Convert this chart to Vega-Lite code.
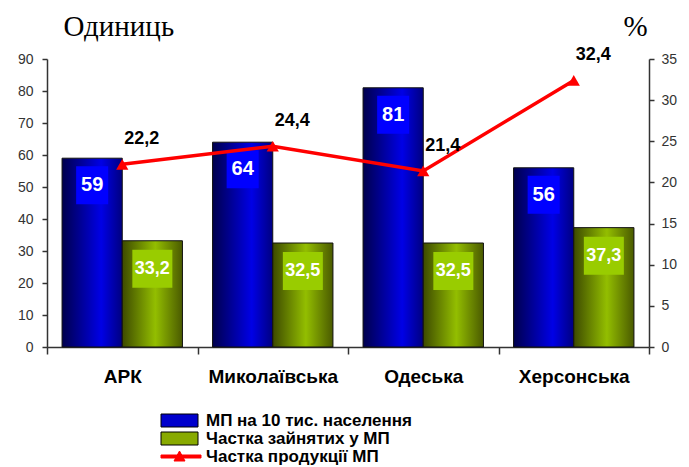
{
  "$schema": "https://vega.github.io/schema/vega-lite/v6.json",
  "width": 602,
  "height": 288,
  "autosize": "none",
  "padding": {"left": 47, "top": 59, "right": 40, "bottom": 120},
  "background": "white",
  "config": {
    "view": {"stroke": null},
    "font": "Liberation Sans",
    "locale": {"number": {"decimal": ",", "thousands": " ", "grouping": [3], "currency": ["", ""]}}
  },
  "data": {
    "values": [
      {"region": "АРК", "series": "МП на 10 тис. населення", "value": 59},
      {"region": "Миколаївська", "series": "МП на 10 тис. населення", "value": 64},
      {"region": "Одеська", "series": "МП на 10 тис. населення", "value": 81},
      {"region": "Херсонська", "series": "МП на 10 тис. населення", "value": 56},
      {"region": "АРК", "series": "Частка зайнятих у МП", "value": 33.2},
      {"region": "Миколаївська", "series": "Частка зайнятих у МП", "value": 32.5},
      {"region": "Одеська", "series": "Частка зайнятих у МП", "value": 32.5},
      {"region": "Херсонська", "series": "Частка зайнятих у МП", "value": 37.3},
      {"region": "АРК", "series": "Частка продукції МП", "value": 22.2},
      {"region": "Миколаївська", "series": "Частка продукції МП", "value": 24.4},
      {"region": "Одеська", "series": "Частка продукції МП", "value": 21.4},
      {"region": "Херсонська", "series": "Частка продукції МП", "value": 32.4}
    ]
  },
  "layer": [
    {
      "encoding": {
        "x": {
          "field": "region", "type": "nominal",
          "sort": ["АРК", "Миколаївська", "Одеська", "Херсонська"],
          "scale": {"paddingInner": 0, "paddingOuter": 0},
          "axis": {
            "title": null, "labelAngle": 0, "tickBand": "extent", "tickSize": 7, "tickWidth": 1.5,
            "tickColor": "#333", "domainColor": "#333", "domainWidth": 1.5,
            "labelPadding": 13, "labelFontSize": 19, "labelFontWeight": "bold", "labelColor": "black",
            "labelFont": "Liberation Sans"
          }
        },
        "y": {
          "field": "value", "type": "quantitative",
          "scale": {"domain": [0, 90], "nice": false},
          "axis": {
            "orient": "left", "title": "Одиниць", "titleAngle": 0, "titleAlign": "left",
            "titleBaseline": "alphabetic", "titleX": 16, "titleY": -24,
            "titleFont": "Liberation Serif", "titleFontSize": 29, "titleFontWeight": "normal", "titleColor": "black",
            "values": [0, 10, 20, 30, 40, 50, 60, 70, 80, 90], "grid": false,
            "tickSize": 5, "tickWidth": 1.5, "tickColor": "#333", "domainColor": "#333", "domainWidth": 1.5,
            "labelFontSize": 14, "labelColor": "#333", "labelPadding": 9, "labelFont": "Liberation Sans"
          }
        }
      },
      "layer": [
        {
          "transform": [{"filter": {"field": "series", "equal": "МП на 10 тис. населення"}}],
          "mark": {
            "type": "bar", "stroke": "#111", "strokeWidth": 1,
            "fill": {"gradient": "linear", "x1": 0, "y1": 0, "x2": 1, "y2": 0,
              "stops": [{"offset": 0, "color": "#00004D"}, {"offset": 0.65, "color": "#0000E6"}, {"offset": 1, "color": "#000080"}]}
          },
          "encoding": {"xOffset": {"field": "series", "scale": {"domain": ["МП на 10 тис. населення", "Частка зайнятих у МП"], "paddingInner": 0, "paddingOuter": 0.25}}}
        },
        {
          "transform": [{"filter": {"field": "series", "equal": "Частка зайнятих у МП"}}],
          "mark": {
            "type": "bar", "stroke": "#111", "strokeWidth": 1,
            "fill": {"gradient": "linear", "x1": 0, "y1": 0, "x2": 1, "y2": 0,
              "stops": [{"offset": 0, "color": "#3D4A00"}, {"offset": 0.55, "color": "#93BE00"}, {"offset": 1, "color": "#4A5A00"}]}
          },
          "encoding": {"xOffset": {"field": "series", "scale": {"domain": ["МП на 10 тис. населення", "Частка зайнятих у МП"], "paddingInner": 0, "paddingOuter": 0.25}}}
        },
        {
          "transform": [{"filter": {"field": "series", "equal": "МП на 10 тис. населення"}}],
          "mark": {"type": "point", "shape": "M-3.2,-3.8H3.2V3.8H-3.2Z", "size": 100, "filled": true, "fill": "#0000FF", "opacity": 1, "strokeWidth": 0, "yOffset": 27},
          "encoding": {"xOffset": {"field": "series"}}
        },
        {
          "transform": [{"filter": {"field": "series", "equal": "Частка зайнятих у МП"}}],
          "mark": {"type": "point", "shape": "M-4,-3.8H4V3.8H-4Z", "size": 100, "filled": true, "fill": "#99CC00", "opacity": 1, "strokeWidth": 0, "yOffset": 28},
          "encoding": {"xOffset": {"field": "series"}}
        },
        {
          "transform": [{"filter": {"field": "series", "equal": "МП на 10 тис. населення"}}],
          "mark": {"type": "text", "color": "white", "fontWeight": "bold", "fontSize": 20, "baseline": "middle", "dy": 27, "font": "Liberation Sans"},
          "encoding": {"xOffset": {"field": "series"}, "text": {"field": "value", "type": "quantitative", "format": "d"}}
        },
        {
          "transform": [{"filter": {"field": "series", "equal": "Частка зайнятих у МП"}}],
          "mark": {"type": "text", "color": "white", "fontWeight": "bold", "fontSize": 18, "baseline": "middle", "dy": 28, "font": "Liberation Sans"},
          "encoding": {"xOffset": {"field": "series"}, "text": {"field": "value", "type": "quantitative", "format": ".1f"}}
        },
        {
          "mark": {"type": "point", "filled": true, "opacity": 0},
          "encoding": {
            "fill": {
              "field": "series", "type": "nominal",
              "scale": {"domain": ["МП на 10 тис. населення", "Частка зайнятих у МП", "Частка продукції МП"], "range": ["#0000CC", "#88AA00", "#FF0000"]},
              "legend": {"title": null}
            },
            "stroke": {
              "field": "series", "type": "nominal",
              "scale": {"domain": ["МП на 10 тис. населення", "Частка зайнятих у МП", "Частка продукції МП"], "range": ["#000000", "#000000", "#FF0000"]},
              "legend": {"title": null}
            },
            "shape": {
              "field": "series", "type": "nominal",
              "scale": {"domain": ["МП на 10 тис. населення", "Частка зайнятих у МП", "Частка продукції МП"],
                "range": ["M-3.7,-1.3H3.7V1.3H-3.7Z", "M-3.7,-1.3H3.7V1.3H-3.7Z", "M-3.7,-0.3H4.3V0.3H-3.7Z M-1.1,0.9L0,-1.1L1.1,0.9Z"]},
              "legend": {
                "title": null, "orient": "none", "legendX": 124, "legendY": 353, "direction": "vertical",
                "symbolSize": 100, "symbolOpacity": 1, "symbolStrokeWidth": 1,
                "labelFont": "Liberation Sans", "labelFontSize": 17, "labelFontWeight": "bold", "labelColor": "black",
                "labelOffset": 18, "rowPadding": 0, "padding": 0, "labelLimit": 400
              }
            }
          }
        }
      ]
    },
    {
      "transform": [{"filter": {"field": "series", "equal": "Частка продукції МП"}}],
      "encoding": {
        "x": {"field": "region", "type": "nominal", "sort": ["АРК", "Миколаївська", "Одеська", "Херсонська"]},
        "y": {
          "field": "value", "type": "quantitative",
          "scale": {"domain": [0, 35], "nice": false},
          "axis": {
            "orient": "right", "title": "%", "titleAngle": 0, "titleAlign": "left",
            "titleBaseline": "alphabetic", "titleX": -26, "titleY": -24,
            "titleFont": "Liberation Serif", "titleFontSize": 29, "titleFontWeight": "normal", "titleColor": "black",
            "values": [0, 5, 10, 15, 20, 25, 30, 35], "grid": false,
            "tickSize": 5, "tickWidth": 1.5, "tickColor": "#333", "domainColor": "#333", "domainWidth": 1.5,
            "labelFontSize": 14, "labelColor": "#333", "labelPadding": 7, "labelFont": "Liberation Sans"
          }
        }
      },
      "layer": [
        {"mark": {"type": "line", "color": "#FF0000", "strokeWidth": 3.5}},
        {"mark": {"type": "point", "shape": "triangle-up", "filled": true, "color": "#FF0000", "size": 150, "opacity": 1}},
        {
          "mark": {"type": "text", "fontSize": 18, "fontWeight": "bold", "align": "left", "dx": 2, "dy": -25, "color": "black", "font": "Liberation Sans"},
          "encoding": {"text": {"field": "value", "type": "quantitative", "format": ".1f"}}
        }
      ]
    }
  ],
  "resolve": {"scale": {"y": "independent"}}
}
